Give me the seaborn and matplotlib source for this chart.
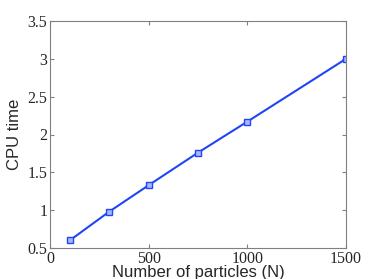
import numpy as np
import pandas as pd
import matplotlib
matplotlib.use("Agg")
import matplotlib.pyplot as plt
import seaborn as sns

# values
particles = [100, 300, 500, 750, 1000, 1500]
cpu_time = [0.60, 0.98, 1.33, 1.76, 2.17, 3.00]

df = pd.DataFrame({"N": particles, "cpu": cpu_time})

sns.set_style("white")
plt.rcParams["font.family"] = ["Liberation Serif", "DejaVu Serif"]

fig = plt.figure(figsize=(3.82, 2.79), dpi=100)
ax = fig.add_axes([50 / 382, 1 - 248 / 279, 296 / 382, 227 / 279])

sns.lineplot(data=df, x="N", y="cpu", ax=ax, color="#2145f5", linewidth=1.5,
             marker="s", markersize=4, markerfacecolor="#a8b8ff",
             markeredgecolor="#2145f5", markeredgewidth=1.0)

ax.set_xlim(0, 1500)
ax.set_ylim(0.5, 3.5)
ax.set_xticks([0, 500, 1000, 1500])
ax.set_yticks([0.5, 1, 1.5, 2, 2.5, 3, 3.5])
ax.set_yticklabels(["0.5", "1", "1.5", "2", "2.5", "3", "3.5"])

for s in ax.spines.values():
    s.set_color("#808080")
    s.set_linewidth(0.8)
ax.tick_params(direction="in", length=3, width=0.8, color="#808080",
               bottom=True, left=True, top=True, right=True,
               labelsize=11.5, pad=2)

ax.set_xlabel("Number of particles (N)", fontsize=12, family=["Liberation Sans"], labelpad=-1)
ax.set_ylabel("CPU time", fontsize=12, family=["Liberation Sans"], labelpad=4)

fig.savefig("out.png", dpi=100)
